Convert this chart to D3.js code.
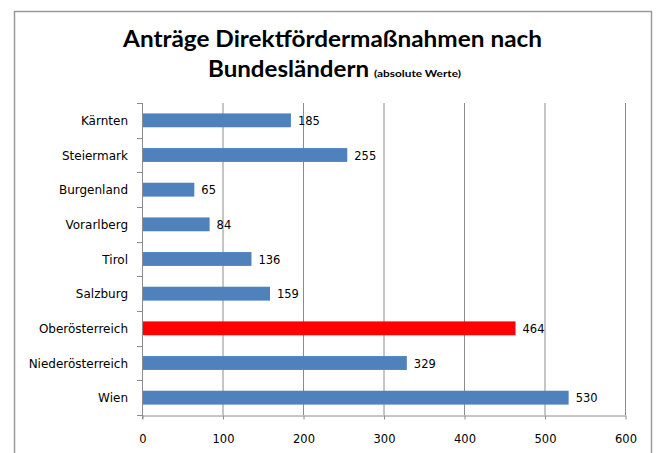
<!DOCTYPE html>
<html><head><meta charset="utf-8">
<script src="https://cdn.jsdelivr.net/npm/d3@7"></script>
<style>body{margin:0;background:#fff}</style>
</head><body>
<svg id="c" width="656" height="453"></svg>
<script>
const categories = ["Kärnten","Steiermark","Burgenland","Vorarlberg","Tirol","Salzburg","Oberösterreich","Niederösterreich","Wien"];
const values = [185,255,65,84,136,159,464,329,530];
const highlight = ["Oberösterreich"];
const xTicks = [0,100,200,300,400,500,600];
const titleLine1 = "Anträge Direktfördermaßnahmen nach";
const titleLine2 = "Bundesländern";
const titleSub = "(absolute Werte)";

const svg = d3.select("#c");
// outer frame
svg.append("rect").attr("x",14.5).attr("y",11.5).attr("width",637).attr("height",460)
  .attr("fill","#fff").attr("stroke","#9a9a9a").attr("stroke-width",1.5);

const m = {left:142, right:625, top:103, bottom:415};
const x = d3.scaleLinear().domain([0,600]).range([m.left,m.right]);
const y = d3.scaleBand().domain(categories).range([m.top,m.bottom]).paddingInner(0.6).paddingOuter(0.3);
const yTicks = d3.scaleBand().domain(categories).range([m.top,m.bottom]);
const lf = "DejaVu Sans, Verdana, sans-serif";

// gridlines
svg.append("g").selectAll("line").data(xTicks.slice(1)).join("line")
  .attr("x1",d=>x(d)+0.5).attr("x2",d=>x(d)+0.5).attr("y1",m.top).attr("y2",m.bottom)
  .attr("stroke","#8c8c8c").attr("stroke-width",1);

// bars
svg.append("g").selectAll("rect").data(categories).join("rect")
  .attr("x",x(0)).attr("y",d=>y(d)).attr("height",y.bandwidth())
  .attr("width",(d,i)=>x(values[i])-x(0))
  .attr("fill",d=>highlight.includes(d)?"#FF0000":"#4F81BD");

// value labels
svg.append("g").selectAll("text").data(categories).join("text")
  .attr("x",(d,i)=>x(values[i])+7).attr("y",d=>y(d)+y.bandwidth()/2+4.5)
  .attr("font-family",lf).attr("font-size",11.5).attr("fill","#000")
  .text((d,i)=>values[i]);

// x axis
const xAxis = d3.axisBottom(x).tickValues(xTicks).tickSize(4).tickPadding(15).tickSizeOuter(0);
const gx = svg.append("g").attr("transform",`translate(0.5,${m.bottom+0.5})`).call(xAxis);
gx.select(".domain").attr("stroke","#8c8c8c");
gx.selectAll(".tick line").attr("stroke","#8c8c8c");
gx.selectAll("text").attr("font-family",lf).attr("font-size",11.5).attr("fill","#000");

// y axis line and ticks at band boundaries
svg.append("line").attr("x1",m.left+0.5).attr("x2",m.left+0.5).attr("y1",m.top).attr("y2",m.bottom+4)
  .attr("stroke","#8c8c8c");
const bounds = categories.map(c=>yTicks(c)).concat([m.bottom]);
svg.append("g").selectAll("line").data(bounds).join("line")
  .attr("x1",m.left-5).attr("x2",m.left).attr("y1",d=>Math.round(d)+0.5).attr("y2",d=>Math.round(d)+0.5)
  .attr("stroke","#8c8c8c");

// category labels
svg.append("g").selectAll("text").data(categories).join("text")
  .attr("x",128).attr("y",d=>yTicks(d)+yTicks.bandwidth()/2+4.5)
  .attr("text-anchor","end")
  .attr("font-family",lf).attr("font-size",12).attr("fill","#000")
  .text(d=>d);

// title
const tf = "Lato, 'Open Sans', sans-serif";
svg.append("text").attr("x",123).attr("y",47)
  .attr("font-family",tf).attr("font-weight","bold").attr("font-size",23.5).attr("fill","#000")
  .attr("textLength",419).attr("lengthAdjust","spacingAndGlyphs")
  .text(titleLine1);
svg.append("text").attr("x",208).attr("y",77)
  .attr("font-family",tf).attr("font-weight","bold").attr("font-size",23.5).attr("fill","#000")
  .attr("textLength",161).attr("lengthAdjust","spacingAndGlyphs")
  .text(titleLine2);
svg.append("text").attr("x",374).attr("y",77)
  .attr("font-family",tf).attr("font-weight","bold").attr("font-size",9).attr("fill","#000")
  .attr("textLength",87).attr("lengthAdjust","spacingAndGlyphs")
  .text(titleSub);
</script>
</body></html>
